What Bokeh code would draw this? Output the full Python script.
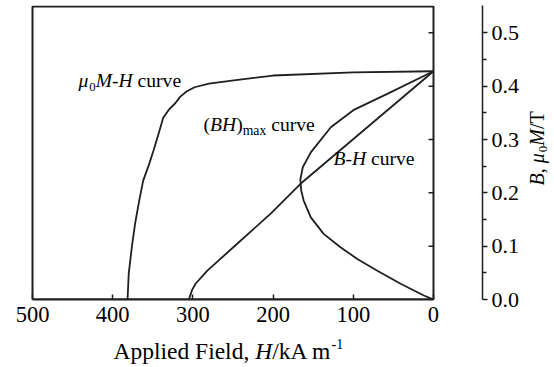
import math
from bokeh.plotting import figure
from bokeh.models import Range1d, FixedTicker, PrintfTickFormatter, LinearAxis, Label
from bokeh.embed import file_html
from bokeh.resources import INLINE

# ---------------- data ----------------
# mu0*M - H curve (H in kA/m, mu0M in T)
mh_H = [0, 100, 200, 249, 280, 298, 308, 316, 322, 330, 337, 343, 349, 355, 362, 367, 372, 376, 380, 381.5]
mh_M = [0.428, 0.426, 0.42, 0.411, 0.405, 0.398, 0.39, 0.38, 0.368, 0.356, 0.341, 0.31, 0.28, 0.252, 0.223, 0.185, 0.143, 0.1, 0.049, 0.0]

# B - H curve
bh_H = [0, 165.8, 203, 244.8, 282, 296.7, 301, 305]
bh_B = [0.428, 0.217, 0.161, 0.1045, 0.054, 0.0295, 0.018, 0.0]

# (BH)max locus curve
bx_H = [0, 12, 41, 70, 95, 116, 137, 153, 162, 165, 166, 163, 153, 128, 100, 57, 0]
bx_B = [0.0, 0.0075, 0.0295, 0.054, 0.076, 0.098, 0.123, 0.154, 0.186, 0.205, 0.225, 0.248, 0.276, 0.323, 0.355, 0.386, 0.428]

x_ticks = [0, 100, 200, 300, 400, 500]
y_ticks = [0.0, 0.1, 0.2, 0.3, 0.4, 0.5]
y_minor = [0.05, 0.15, 0.25, 0.35, 0.45]

FONT = "Liberation Serif"
INK = "#1f1f1f"
BOX_TOP = 0.5494  # top edge of the drawn frame box
BASE_FIX = 0.34   # em shift so that the given y is the text baseline

p = figure(
    output_backend="svg", toolbar_location=None,
    frame_width=452, frame_height=294,
    x_range=Range1d(502.5, -61.1), y_range=Range1d(0, 0.5513),
    x_axis_location=None, y_axis_location=None,
    min_border_left=30, min_border_top=5, min_border_right=72, min_border_bottom=68,
)
p.outline_line_color = None
p.grid.visible = False
p.background_fill_color = "white"
p.border_fill_color = "white"

# bottom axis (inward ticks)
xa = LinearAxis(ticker=FixedTicker(ticks=x_ticks), bounds=(0, 500))
xa.axis_line_width = 2
xa.axis_line_color = INK
xa.major_tick_in = 5
xa.major_tick_out = 0
xa.major_tick_line_width = 1.5
xa.major_tick_line_color = INK
xa.minor_tick_line_color = None
xa.major_label_text_font = FONT
xa.major_label_text_font_size = "22.5px"
xa.major_label_text_color = "black"
xa.major_label_standoff = 7
p.add_layout(xa, "below")

# separate right axis
ya = LinearAxis(
    ticker=FixedTicker(ticks=y_ticks, minor_ticks=y_minor),
    formatter=PrintfTickFormatter(format="%.1f"),
)
ya.axis_line_width = 1.5
ya.axis_line_color = INK
ya.major_tick_in = 0
ya.major_tick_out = 5
ya.minor_tick_in = 0
ya.minor_tick_out = 4
ya.major_tick_line_width = 1.5
ya.minor_tick_line_width = 1.5
ya.major_tick_line_color = INK
ya.minor_tick_line_color = INK
ya.major_label_text_font = FONT
ya.major_label_text_font_size = "22px"
ya.major_label_text_color = "black"
ya.major_label_standoff = 4
p.add_layout(ya, "right")

# frame box of the plotting area
p.quad(left=[0], right=[500], bottom=[0], top=[BOX_TOP],
       fill_color=None, line_color=INK, line_width=2)
# inward ticks on the right edge of the box
tick_len = 6.2
p.segment(x0=[0] * len(y_ticks), y0=y_ticks, x1=[tick_len] * len(y_ticks), y1=y_ticks,
          line_color=INK, line_width=1.5)

# curves
LW = 1.8
p.line(mh_H, mh_M, line_color=INK, line_width=LW)
p.line(bh_H, bh_B, line_color=INK, line_width=LW)
p.line(bx_H, bx_B, line_color=INK, line_width=LW)

# ---------------- rich-text helpers ----------------
W_REG = {' ': .25, '(': .333, ')': .333, '-': .333, ',': .25, '/': .278, '0': .5, '1': .5,
         'a': .444, 'c': .444, 'e': .444, 'm': .778, 'r': .333, 'u': .5, 'v': .5, 'x': .5,
         'A': .722, 'p': .5, 'l': .278, 'i': .278, 'd': .5, 'F': .556, 'k': .5, 'T': .611}
W_IT = {'\u03bc': .55, 'M': .833, 'H': .722, 'B': .611, '-': .333, ',': .25}


def text_width(s, italic, size):
    tbl = W_IT if italic else W_REG
    return sum(tbl.get(ch, .5) for ch in s) * size


def split_lead(txt, size):
    lead = 0.0
    while txt.startswith(' '):
        lead += 0.25 * size
        txt = txt[1:]
    return txt, lead


def rich_data(x, y, runs, size):
    """Runs of text anchored at a data point (inside the plot area)."""
    off = 0.0
    for txt, italic, scale, dy in runs:
        fs = size * scale
        txt, lead = split_lead(txt, size)
        off += lead
        p.add_layout(Label(
            x=x, y=y, x_offset=off, y_offset=dy * size + BASE_FIX * fs, text=txt,
            text_font=FONT, text_font_size=f"{fs:.1f}px",
            text_font_style="italic" if italic else "normal",
            text_color="black", text_align="left", text_baseline="alphabetic",
        ))
        off += text_width(txt, italic, fs)


def rich_canvas(x, y, runs, size, side, vertical=False):
    """Runs of text at canvas pixel positions (outside the plot area)."""
    off = 0.0
    for txt, italic, scale, dy in runs:
        fs = size * scale
        txt, lead = split_lead(txt, size)
        off += lead
        shift = dy * size + BASE_FIX * fs
        if vertical:
            lx, ly, ang = x - shift, y - off, math.pi / 2
        else:
            lx, ly, ang = x + off, y - shift, 0.0
        p.add_layout(Label(
            x=lx, y=ly, x_units="canvas", y_units="canvas", angle=ang, text=txt,
            text_font=FONT, text_font_size=f"{fs:.1f}px",
            text_font_style="italic" if italic else "normal",
            text_color="black", text_align="left", text_baseline="alphabetic",
        ), side)
        off += text_width(txt, italic, fs)


# annotations inside the plot
AFS = 19.6
rich_data(442.6, 0.398, [("\u03bc", True, 1, 0), ("0", False, 0.65, -0.2),
                         ("M-H", True, 1, 0), (" curve", False, 1, 0)], AFS)
rich_data(286.8, 0.315, [("(", False, 1, 0), ("BH", True, 1, 0), (")", False, 1, 0),
                         ("max", False, 0.7, -0.2), (" curve", False, 1, 0)], AFS)
rich_data(124.7, 0.251, [("B-H", True, 1, 0), (" curve", False, 1, 0)], AFS)

# axis titles
rich_canvas(113, 358, [("Applied Field, ", False, 1, 0), ("H", True, 1, 0),
                       ("/kA m", False, 1, 0), ("-1", False, 0.6, 0.42)], 23.5, "below")
rich_canvas(543, 185, [("B", True, 1, 0), (", ", False, 1, 0), ("\u03bc", True, 1, 0),
                       ("0", False, 0.65, -0.2), ("M", True, 1, 0), ("/T", False, 1, 0)],
            20, "below", vertical=True)

open("out.html", "w").write(file_html(p, INLINE))
